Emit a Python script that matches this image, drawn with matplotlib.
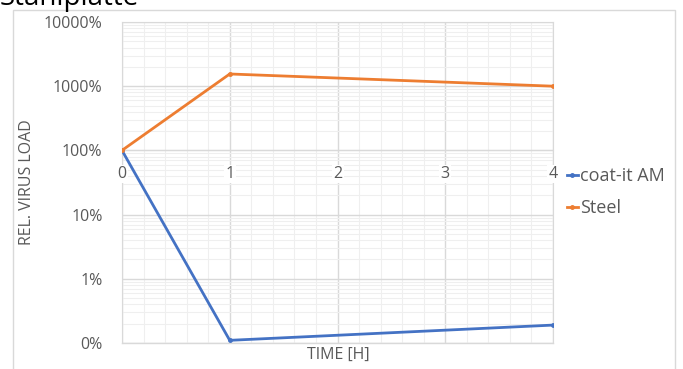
import matplotlib.pyplot as plt
from matplotlib.ticker import FixedLocator, LogLocator, MultipleLocator, FixedFormatter, NullFormatter
from matplotlib.patches import Rectangle

plt.rcParams['font.family'] = ['Open Sans', 'DejaVu Sans']

# data (relative virus load, in percent)
tid = [0, 1, 4]
coat_it = [100, 0.11, 0.19]
steel = [100, 1550, 1000]

y_ticks = [0.1, 1, 10, 100, 1000, 10000]
y_labels = ['0%', '1%', '10%', '100%', '1000%', '10000%']
x_ticks = [0, 1, 2, 3, 4]

grey = '#595959'
grid_col = '#d9d9d9'

fig = plt.figure(figsize=(6.83, 3.69), dpi=100)
ax = fig.add_axes([0.1786, 0.0705, 0.6311, 0.8699])

ax.plot(tid, coat_it, color='#4472C4', lw=2, marker='o', ms=2.5, label='coat-it AM', zorder=4)
ax.plot(tid, steel, color='#ED7D31', lw=2, marker='o', ms=2.5, label='Steel', zorder=4)

ax.set_yscale('log')
ax.set_ylim(0.1, 10000)
ax.set_xlim(0, 4)
ax.yaxis.set_major_locator(FixedLocator(y_ticks))
ax.yaxis.set_major_formatter(FixedFormatter(y_labels))
ax.yaxis.set_minor_locator(LogLocator(base=10, subs=range(2, 10)))
ax.yaxis.set_minor_formatter(NullFormatter())
ax.xaxis.set_major_locator(FixedLocator(x_ticks))
ax.xaxis.set_minor_locator(MultipleLocator(0.2))
ax.xaxis.set_major_formatter(NullFormatter())

ax.grid(which='major', color=grid_col, lw=1)
ax.grid(which='minor', color='#efefef', lw=0.8)
ax.set_axisbelow(True)

# x-axis sits at 100 %
ax.spines['bottom'].set_position(('data', 100))
ax.spines['bottom'].set_color(grid_col)
for s in ['left', 'right', 'top']:
    ax.spines[s].set_color(grid_col)
ax.plot([0, 4], [0.1, 0.1], color=grid_col, lw=1, clip_on=False, zorder=0)

ax.tick_params(axis='both', which='both', length=0, labelcolor=grey, labelsize=11.5)
ax.tick_params(axis='y', pad=14)

# x tick labels just below the 100 % line, with white background
for x in x_ticks:
    ax.annotate(str(x), (x, 100), xytext=(0, -17), textcoords='offset points',
                ha='center', va='center', color=grey, fontsize=11.5, zorder=3,
                bbox=dict(facecolor='white', edgecolor='none', pad=1))

ax.set_ylabel('REL. VIRUS LOAD', color=grey, fontsize=11.5, labelpad=6)
fig.text(338 / 683, 1 - 355 / 369, 'TIME [H]', color=grey, fontsize=11.5, ha='center', va='center')

ax.legend(loc='center left', bbox_to_anchor=(1.0325, 0.47), frameon=False, fontsize=13,
          handlelength=0.6, handletextpad=0.1, labelspacing=0.75, labelcolor=grey,
          borderaxespad=0, borderpad=0)

fig.text(0.0, 1 - 5 / 369, 'Stahlplatte', fontsize=20, va='baseline', ha='left')

# chart border
fig.patches.append(Rectangle((13 / 683, -0.1), 662 / 683, 1.1 - 10 / 369, transform=fig.transFigure,
                             fill=False, edgecolor='#d9d9d9', lw=1))

fig.savefig('out.png', dpi=100)
